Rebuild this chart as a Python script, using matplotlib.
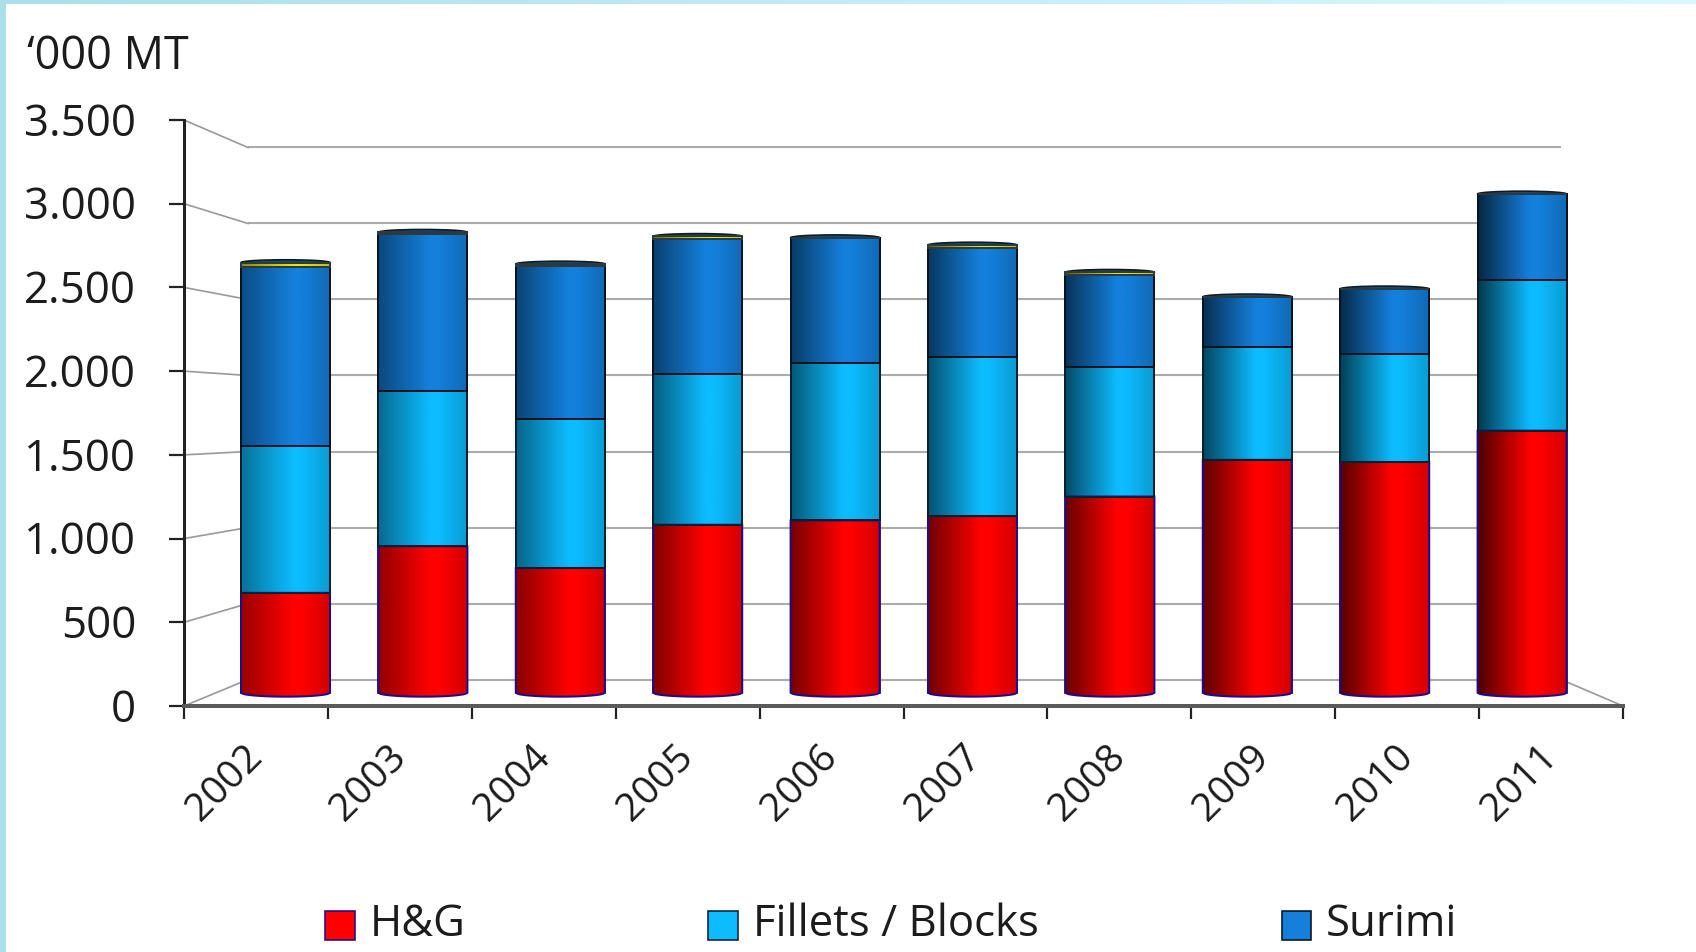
import matplotlib
matplotlib.use('Agg')
import matplotlib.pyplot as plt
import numpy as np
from matplotlib.colors import to_rgb
from matplotlib.lines import Line2D
from matplotlib.patches import Ellipse, PathPatch
from matplotlib.path import Path
from matplotlib.transforms import ScaledTranslation

W, H = 1696, 953

years = ['2002', '2003', '2004', '2005', '2006', '2007', '2008', '2009', '2010', '2011']
hg = [626, 918, 782, 1053, 1080, 1107, 1230, 1460, 1446, 1643]
fillets = [922, 976, 936, 943, 984, 997, 813, 705, 679, 943]
surimi = [1119, 983, 956, 847, 786, 685, 577, 315, 405, 539]
other = [30, 10, 14, 18, 3, 18, 16, 2, 2, 2]
y_ticks = [0, 500, 1000, 1500, 2000, 2500, 3000, 3500]
y_labels = ['0', '500', '1.000', '1.500', '2.000', '2.500', '3.000', '3.500']

plt.rcParams['font.family'] = ['Open Sans', 'DejaVu Sans']
plt.rcParams['text.color'] = '#1c1c1c'
FS = 31.5
PX = 0.72  # points per pixel at dpi 100


def px_axes(fig, left, top, right, bottom, **kw):
    return fig.add_axes([left / W, 1 - bottom / H, (right - left) / W, (bottom - top) / H], **kw)


def shade(color, i, n=256):
    # cylinder look: dark on the left, brightest past the middle, the left gets darker along the chart
    c = np.array(to_rgb(color))
    left = 0.6 - 0.3 * i / 9
    t = np.linspace(0, 1, n)
    k = np.interp(t, [0, 0.58, 0.68, 1], [left, 1, 1, 0.82])
    return (k[:, None] * c)[None, :, :]


def segment_path(x, y0, y1, w, ry, round_bottom):
    u = np.linspace(-1, 1, 41)
    xs = x + u * w / 2
    if round_bottom:
        ys = y0 - ry * np.sqrt(1 - u ** 2)
    else:
        ys = np.full_like(u, y0)
    verts = list(zip(xs, ys)) + [(x + w / 2, y1), (x - w / 2, y1), (xs[0], ys[0])]
    return Path(verts, closed=True)


fig = plt.figure(figsize=(W / 100, H / 100), dpi=100, facecolor='white')

# light frame at the left and top of the slide
bg = fig.add_axes([0, 0, 1, 1], zorder=0)
bg.axis('off')
strip = np.linspace(0, 1, 256)[None, :, None] * (np.array(to_rgb('#d9f9fb')) - np.array(to_rgb('#aadfeb'))) + np.array(to_rgb('#aadfeb'))
bg.imshow(strip, extent=[0, W, H - 5, H], aspect='auto', zorder=1)
bg.fill_between([0, 6], 0, H, color='#aadfeb', lw=0, zorder=2)
bg.set_xlim(0, W)
bg.set_ylim(0, H)

# back wall of the 3d chart
wall = px_axes(fig, 248, 148.5, 1561, 680.5, zorder=1)
wall.axis('off')
wall.set_xlim(0, 1)
wall.set_ylim(0, 3500)
wall.hlines(y_ticks, 0, 1, color='#ababab', lw=1.5 * PX * 1.4, clip_on=False)

# front axis with ticks and labels
ax = px_axes(fig, 184, 121, 1623, 707, zorder=2)
ax.patch.set_alpha(0)
ax.set_xlim(0, len(years))
ax.set_ylim(0, 3500)
ax.set_yticks(y_ticks)
ax.set_yticklabels(y_labels, fontsize=FS, color='#1c1c1c')
ax.tick_params(axis='y', length=15 * PX, width=2.2 * PX, pad=33 * PX, color='#222222')
ax.set_xticks(np.arange(len(years) + 1))
ax.set_xticklabels([])
ax.tick_params(axis='x', which='major', length=13 * PX, width=2.2 * PX, color='#222222')
ax.set_xticks(np.arange(len(years)) + 0.5, minor=True)
ax.set_xticklabels(years, minor=True, rotation=45, ha='right', va='top', rotation_mode='anchor',
                   fontsize=FS * 0.9, color='#1c1c1c')
ax.tick_params(axis='x', which='minor', length=0, pad=31 * PX)
for lab in ax.get_xticklabels(minor=True):
    lab.set_transform(lab.get_transform() + ScaledTranslation(-0.13, 0.0, fig.dpi_scale_trans))
for lab in ax.get_yticklabels():
    lab.set_transform(lab.get_transform() + ScaledTranslation(0.0, 0.02, fig.dpi_scale_trans))
ax.spines['top'].set_visible(False)
ax.spines['right'].set_visible(False)
ax.spines['left'].set_linewidth(3 * PX)
ax.spines['left'].set_color('#222222')
ax.spines['bottom'].set_linewidth(4 * PX)
ax.spines['bottom'].set_color('#5a5a5a')

# floor and wall connectors
to_fig = fig.transFigure.inverted()
for v in y_ticks:
    p0 = to_fig.transform(ax.transData.transform((0, v)))
    p1 = to_fig.transform(wall.transData.transform((0, v)))
    fig.add_artist(Line2D([p0[0], p1[0]], [p0[1], p1[1]], color='#9a9a9a', lw=1.3 * PX * 1.3, zorder=1.5))
p0 = to_fig.transform(ax.transData.transform((len(years), 0)))
p1 = to_fig.transform(wall.transData.transform((1, 0)))
fig.add_artist(Line2D([p0[0], p1[0]], [p0[1], p1[1]], color='#9a9a9a', lw=1.3 * PX * 1.3, zorder=1.5))

# cylinders, on the plane halfway between wall and front
bars = px_axes(fig, 216.8, 135.45, 1590.8, 709.65, zorder=3)
bars.axis('off')
x = np.arange(len(years))
bar_w = 0.648
ry = 25

series = [
    ('H&G', hg, '#ff0000', '#1f0a8c'),
    ('Fillets / Blocks', fillets, '#0cbcff', '#0a2030'),
    ('Surimi', surimi, '#1480dc', '#06141f'),
    ('Other', other, '#e8e800', '#2a3a40'),
]

bottom = np.zeros(len(years))
legend_handles = []
for s, (name, vals, color, edge) in enumerate(series):
    vals = np.array(vals, dtype=float)
    cont = bars.bar(x, vals, bar_w, bottom=bottom, color=color, edgecolor=edge, linewidth=1.6 * PX, label=name, zorder=1)
    if s < 3:
        legend_handles.append(cont)
    for i in x:
        path = segment_path(i, bottom[i], bottom[i] + vals[i], bar_w, ry, s == 0)
        im = bars.imshow(shade(color, i), extent=[i - bar_w / 2, i + bar_w / 2, bottom[i] - ry * 1.2, bottom[i] + vals[i]],
                         aspect='auto', interpolation='bilinear', zorder=2 + s * 0.1)
        im.set_clip_path(path, bars.transData)
        bars.add_patch(PathPatch(path, fill=False, edgecolor=edge, linewidth=2.0 * PX, zorder=3 + s * 0.1))
    bottom = bottom + vals

# dark domed lid on each cylinder
for i in x:
    bars.add_patch(Ellipse((i, bottom[i]), bar_w, 1.4 * ry, facecolor='#1a4a70', edgecolor='#101a22', linewidth=1.6 * PX, zorder=0.5))
bars.set_xlim(-0.5, len(years) - 0.5)
bars.set_ylim(-100, 3500)

fig.text(27 / W, 1 - 69 / H, '\u2018000 MT', fontsize=FS * 1.03, color='#1c1c1c', va='baseline', ha='left')

leg = fig.legend(legend_handles, [s[0] for s in series[:3]], loc='lower left', bbox_to_anchor=(325 / W, 6 / H),
                 bbox_transform=fig.transFigure, ncols=3, frameon=False, fontsize=FS, borderpad=0, borderaxespad=0,
                 handlelength=0.68, handleheight=0.66, handletextpad=0.34, columnspacing=5.55)
for h in leg.legend_handles:
    h.set_y(h.get_y() - 6 * PX)

fig.savefig('out.png', dpi=100)
